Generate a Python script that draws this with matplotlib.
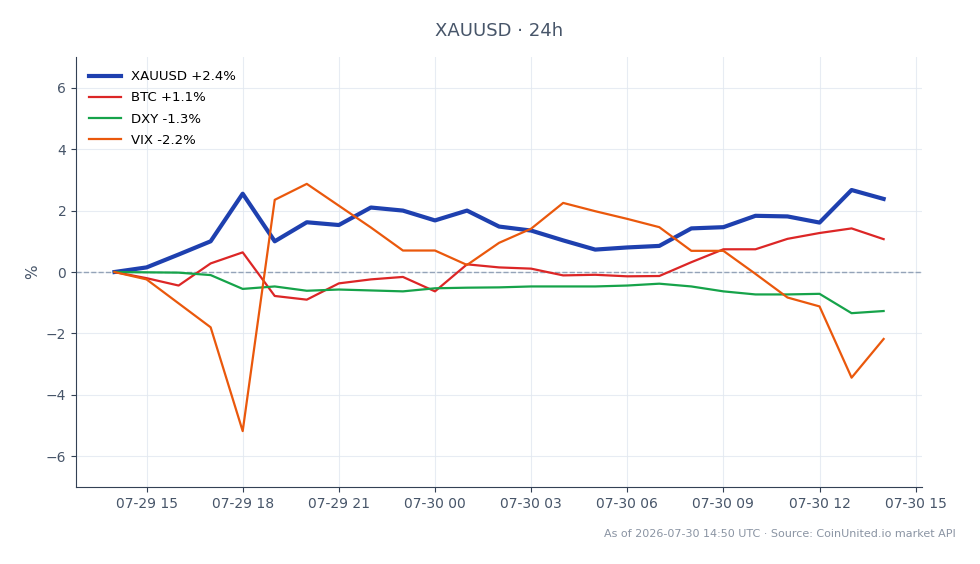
import pandas as pd
import matplotlib
matplotlib.use('Agg')
from matplotlib import pyplot as plt
import matplotlib.dates as mdates

# hourly snapshots, % change vs first point
times = pd.date_range('2026-07-29 14:00', '2026-07-30 14:00', freq='h')

xauusd = [0.0, 0.15, 0.57, 1.0, 2.55, 1.0, 1.62, 1.53, 2.1, 2.0, 1.68, 2.0, 1.48,
          1.35, 1.03, 0.73, 0.8, 0.85, 1.42, 1.46, 1.83, 1.81, 1.61, 2.67, 2.38]
btc = [0.0, -0.2, -0.44, 0.28, 0.64, -0.78, -0.9, -0.37, -0.24, -0.16, -0.63, 0.25, 0.15,
       0.11, -0.11, -0.09, -0.14, -0.13, 0.32, 0.74, 0.74, 1.08, 1.27, 1.42, 1.07]
dxy = [0.0, -0.01, -0.02, -0.1, -0.55, -0.47, -0.61, -0.57, -0.6, -0.63, -0.53, -0.51, -0.5,
       -0.47, -0.47, -0.47, -0.44, -0.38, -0.47, -0.63, -0.73, -0.73, -0.71, -1.34, -1.27]
vix = [0.0, -0.24, -1.02, -1.8, -5.18, 2.35, 2.87, 2.16, 1.45, 0.7, 0.7, 0.23, 0.95,
       1.41, 2.25, 1.98, 1.73, 1.46, 0.69, 0.69, -0.06, -0.83, -1.12, -3.44, -2.18]

series = [
    ('XAUUSD', xauusd, '#1e40af', 3.0),
    ('BTC', btc, '#dc2626', 1.6),
    ('DXY', dxy, '#16a34a', 1.6),
    ('VIX', vix, '#ea580c', 1.6),
]

text_color = '#475569'

fig = plt.figure(figsize=(9.8, 5.64), dpi=100)
ax = fig.add_axes([0.0776, 0.1365, 0.8633, 0.7624])

for name, vals, color, lw in series:
    change = vals[-1] - vals[0]
    ax.plot(times, vals, color=color, lw=lw, label=f'{name} {change:+.1f}%', zorder=3)

ax.axhline(0, color='#94a3b8', lw=1, ls='--', zorder=2)

ax.set_ylim(-7, 7)
ax.set_yticks([-6, -4, -2, 0, 2, 4, 6])
ax.xaxis.set_major_locator(mdates.HourLocator(byhour=range(0, 24, 3)))
ax.xaxis.set_major_formatter(mdates.DateFormatter('%m-%d %H'))

ax.grid(True, color='#e2e8f0', lw=0.8, alpha=0.8)
ax.set_axisbelow(True)
for side in ['top', 'right']:
    ax.spines[side].set_visible(False)
for side in ['left', 'bottom']:
    ax.spines[side].set_color('#334155')
ax.tick_params(colors='#334155', labelcolor=text_color, labelsize=10)

ax.set_ylabel('%', color=text_color, fontsize=11)
ax.set_title('XAUUSD · 24h', color=text_color, fontsize=13, pad=15)

ax.legend(loc='upper left', frameon=False, fontsize=9.5, handlelength=2.4,
          labelspacing=0.62, borderaxespad=0.6)

fig.text(0.975, 0.053, 'As of 2026-07-30 14:50 UTC · Source: CoinUnited.io market API',
         ha='right', va='center', fontsize=8, color='#8a94a3')

fig.savefig('out.png', dpi=100)
